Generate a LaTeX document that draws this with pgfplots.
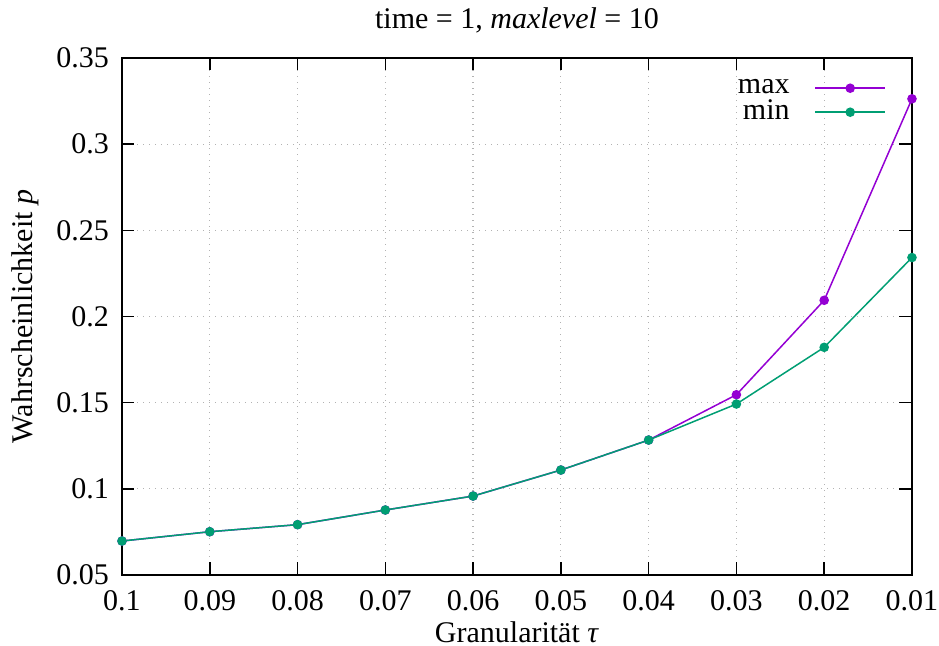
\documentclass[border=0pt]{standalone}
\usepackage{fontspec}
\setmainfont{Liberation Serif}
\usepackage{pgfplots}
\pgfplotsset{compat=1.18}
\definecolor{gpurple}{HTML}{9400D3}
\definecolor{ggreen}{HTML}{009E73}
\begin{document}
\fontsize{12}{14}\selectfont
\begin{tikzpicture}
\useasboundingbox (-48.8pt,-28.4pt) rectangle (326.8pt,230pt);
\begin{axis}[
  at={(0,0)}, anchor=south west,
  scale only axis, width=316pt, height=206.8pt,
  x dir=reverse,
  xmin=0.01, xmax=0.1, ymin=0.05, ymax=0.35,
  xtick={0.01,0.02,0.03,0.04,0.05,0.06,0.07,0.08,0.09,0.1},
  xticklabels={0.01,0.02,0.03,0.04,0.05,0.06,0.07,0.08,0.09,0.1},
  ytick={0.05,0.1,0.15,0.2,0.25,0.3,0.35},
  yticklabels={0.05,0.1,0.15,0.2,0.25,0.3,0.35},
  /pgf/number format/assume math mode=true,
  tick align=inside, major tick length=5pt,
  tick style={black, line width=0.6pt},
  axis line style={line width=0.6pt},
  grid=major,
  major grid style={gray!60, dotted, line width=0.5pt},
  ticklabel style={font=\fontsize{12}{14}\selectfont},
  xticklabel style={yshift=-2pt},
  yticklabel style={xshift=-1pt},
  title={time = 1, \textit{maxlevel} = 10},
  title style={at={(axis description cs:0.5,1.0445)}, anchor=center, font=\fontsize{12}{14}\selectfont},
  xlabel={Granularität \textit{τ}},
  xlabel style={at={(axis description cs:0.5,-0.1103)}, anchor=center, font=\fontsize{12}{14}\selectfont},
  ylabel={Wahrscheinlichkeit \textit{p}},
  ylabel style={at={(axis description cs:-0.1228,0.5)}, anchor=center, rotate=0, font=\fontsize{12}{14}\selectfont},
  legend cell align=right,
  legend plot pos=right,
  legend style={draw=none, fill=none, at={(axis description cs:0.977,0.975)}, anchor=north east,
    font=\fontsize{12}{14}\selectfont, row sep=-1pt, nodes={inner sep=1pt},
    /tikz/every odd column/.append style={column sep=9pt}},
  legend image code/.code={\draw[mark repeat=2,mark phase=2,#1] plot coordinates {(0cm,0cm)(0.49cm,0cm)(0.98cm,0cm)};},
]
\addplot[color=gpurple, line width=0.6pt, mark=*, mark size=1.6pt] coordinates {
(0.1,0.0697) (0.09,0.0751) (0.08,0.0792) (0.07,0.0877) (0.06,0.0958)
(0.05,0.1109) (0.04,0.1283) (0.03,0.1546) (0.02,0.2094) (0.01,0.3263)};
\addlegendentry{max}
\addplot[color=ggreen, line width=0.6pt, mark=*, mark size=1.6pt] coordinates {
(0.1,0.0697) (0.09,0.0751) (0.08,0.0792) (0.07,0.0877) (0.06,0.0958)
(0.05,0.1109) (0.04,0.1283) (0.03,0.1492) (0.02,0.1821) (0.01,0.2342)};
\addlegendentry{min}
\end{axis}
\end{tikzpicture}
\end{document}
